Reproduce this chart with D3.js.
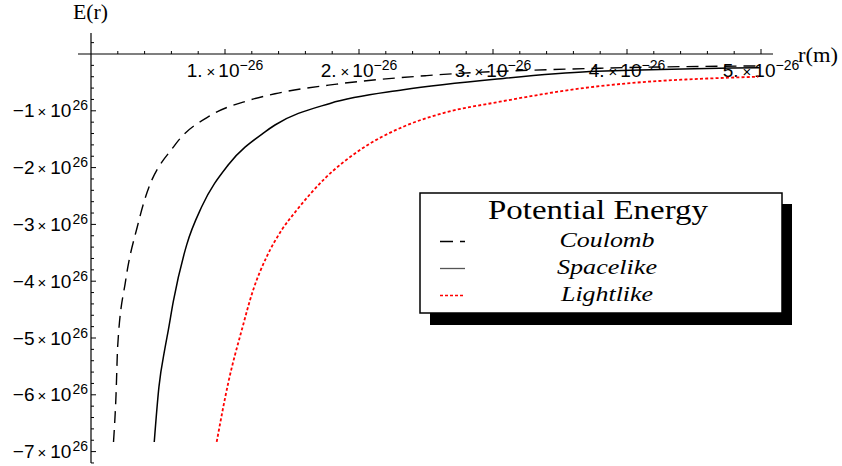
<!DOCTYPE html>
<html>
<head>
<meta charset="utf-8">
<script src="https://cdn.jsdelivr.net/npm/d3@7"></script>
<style>
  body { margin: 0; background: #fff; }
  svg { display: block; }
</style>
</head>
<body>
<div id="chart"></div>
<script>
// values: r in units of 1e-26 m, E in units of 1e26
var coulombR = [0.168, 0.187, 0.199, 0.259, 0.349, 0.396, 0.627, 0.901, 1.172, 1.373, 1.834, 2.505, 3.80, 4.99]
var coulombE = [-6.83, -5.99, -5.15, -3.98, -3.01, -2.60, -1.60, -1.07, -0.82, -0.70, -0.53, -0.38, -0.25, -0.21]

var spaceR = [0.472, 0.507, 0.552, 0.577, 0.614, 0.714, 0.826, 1.025, 1.299, 1.373, 1.784, 2.331, 3.077, 3.724, 4.99]
var spaceE = [-6.83, -5.86, -5.18, -4.86, -4.36, -3.36, -2.69, -1.95, -1.37, -1.25, -0.87, -0.63, -0.43, -0.31, -0.24]

var lightR = [0.938, 1.026, 1.125, 1.211, 1.311, 1.423, 1.535, 1.746, 2.007, 2.331, 2.629, 3.052, 3.674, 4.98]
var lightE = [-6.83, -5.77, -4.86, -4.15, -3.57, -3.10, -2.75, -2.19, -1.69, -1.28, -1.04, -0.84, -0.60, -0.40]

var xTicks = [1, 2, 3, 4, 5]
var xTickLabels = ["1.", "2.", "3.", "4.", "5."]
var yTicks = [-1, -2, -3, -4, -5, -6, -7]
var yTickLabels = ["\u22121", "\u22122", "\u22123", "\u22124", "\u22125", "\u22126", "\u22127"]
var legendTitle = "Potential Energy"
var seriesNames = ["Coulomb", "Spacelike", "Lightlike"]

var width = 842, height = 466

var svg = d3.select("#chart").append("svg")
    .attr("width", width)
    .attr("height", height)

var x = d3.scaleLinear().domain([0, 5e-26]).range([91, 761])
var y = d3.scaleLinear().domain([0, -7e26]).range([54, 451.6])

var sans = "'Liberation Sans', Arial, sans-serif"
var serif = "'Liberation Serif', 'Times New Roman', serif"

// axes
var axes = svg.append("g").attr("stroke", "#000").attr("stroke-width", 1.2)
axes.append("line")
    .attr("x1", x(0) - 13).attr("x2", x(5e-26) + 12)
    .attr("y1", y(0)).attr("y2", y(0))
axes.append("line")
    .attr("x1", x(0)).attr("x2", x(0))
    .attr("y1", y(0.37e26)).attr("y2", y(-7.2e26))

var xMinor = d3.range(1, 26).map(function(i){ return i * 0.2e-26 })
axes.selectAll(".xt").data(xMinor).enter().append("line")
    .attr("stroke-width", 1)
    .attr("x1", function(d){ return x(d) }).attr("x2", function(d){ return x(d) })
    .attr("y1", y(0))
    .attr("y2", function(d, i){ return y(0) - ((i + 1) % 5 == 0 ? 5 : 3) })

var yMinor = d3.range(-36, 2).filter(function(i){ return i != 0 }).map(function(i){ return i * 0.2e26 })
axes.selectAll(".yt").data(yMinor).enter().append("line")
    .attr("stroke-width", 1)
    .attr("y1", function(d){ return y(d) }).attr("y2", function(d){ return y(d) })
    .attr("x1", x(0))
    .attr("x2", function(d){ return x(0) + (Math.abs(Math.round(d / 0.2e26)) % 5 == 0 ? 5 : 3) })

// tick labels
var xl = svg.selectAll(".xlab").data(xTicks).enter().append("text")
    .attr("x", function(d){ return x(d * 1e-26) })
    .attr("y", 77)
    .attr("text-anchor", "middle")
    .attr("font-family", sans).attr("font-size", 19)
xl.append("tspan").text(function(d, i){ return xTickLabels[i] })
xl.append("tspan").attr("dx", 4).attr("font-size", 15).text("\u00d7")
xl.append("tspan").attr("dx", 3).text("10")
xl.append("tspan").attr("dy", -7).attr("font-size", 14).text("\u221226")

var yl = svg.selectAll(".ylab").data(yTicks).enter().append("text")
    .attr("x", 88)
    .attr("y", function(d){ return y(d * 1e26) + 6.5 })
    .attr("text-anchor", "end")
    .attr("font-family", sans).attr("font-size", 19)
yl.append("tspan").text(function(d, i){ return yTickLabels[i] })
yl.append("tspan").attr("dx", 3).attr("font-size", 15).text("\u00d7")
yl.append("tspan").attr("dx", 4).text("10")
yl.append("tspan").attr("dy", -7).attr("dx", 1).attr("font-size", 14).text("26")

// axis labels
svg.append("text").attr("x", 73).attr("y", 18.5)
    .attr("font-family", serif).attr("font-size", 20)
    .attr("textLength", 35).attr("lengthAdjust", "spacingAndGlyphs").text("E(r)")
svg.append("text").attr("x", 798).attr("y", 61.5)
    .attr("font-family", serif).attr("font-size", 20)
    .attr("textLength", 40).attr("lengthAdjust", "spacingAndGlyphs").text("r(m)")

// curves
function toPoints(rs, es){
    return rs.map(function(r, i){ return [r * 1e-26, es[i] * 1e26] })
}
var line = d3.line()
    .x(function(d){ return x(d[0]) })
    .y(function(d){ return y(d[1]) })
    .curve(d3.curveMonotoneX)

var series = [
    {pts: toPoints(coulombR, coulombE), color: "#000", dash: "12,7", w: 1.4},
    {pts: toPoints(spaceR, spaceE), color: "#000", dash: null, w: 1.5},
    {pts: toPoints(lightR, lightE), color: "#ff0000", dash: "3,2.2", w: 1.8}
]
svg.selectAll(".curve").data(series).enter().append("path")
    .attr("class", "curve")
    .attr("fill", "none")
    .attr("d", function(d){ return line(d.pts) })
    .attr("stroke", function(d){ return d.color })
    .attr("stroke-width", function(d){ return d.w })
    .attr("stroke-dasharray", function(d){ return d.dash })

// legend
var lg = svg.append("g")
lg.append("rect").attr("x", 430).attr("y", 204).attr("width", 362).attr("height", 121).attr("fill", "#000")
lg.append("rect").attr("x", 420).attr("y", 193).attr("width", 362).attr("height", 120)
    .attr("fill", "#fff").attr("stroke", "#000").attr("stroke-width", 1.5)
lg.append("text").attr("x", 598).attr("y", 219).attr("text-anchor", "middle")
    .attr("font-family", serif).attr("font-size", 28)
    .attr("textLength", 220).attr("lengthAdjust", "spacingAndGlyphs")
    .text(legendTitle)

var swatch = [
    {color: "#000", dash: "13,7", w: 1.3},
    {color: "#555", dash: null, w: 1.3},
    {color: "#ff0000", dash: "3,2", w: 1.3}
]
var nameWidths = [95, 100, 92]
seriesNames.forEach(function(name, i){
    var by = 246.5 + i * 27
    lg.append("line").attr("x1", 440).attr("x2", 465)
        .attr("y1", by - 5).attr("y2", by - 5)
        .attr("stroke", swatch[i].color)
        .attr("stroke-width", swatch[i].w)
        .attr("stroke-dasharray", swatch[i].dash)
    lg.append("text").attr("x", 607).attr("y", by).attr("text-anchor", "middle")
        .attr("font-family", serif).attr("font-style", "italic").attr("font-size", 22)
        .attr("textLength", nameWidths[i]).attr("lengthAdjust", "spacingAndGlyphs")
        .text(name)
})
</script>
</body>
</html>
